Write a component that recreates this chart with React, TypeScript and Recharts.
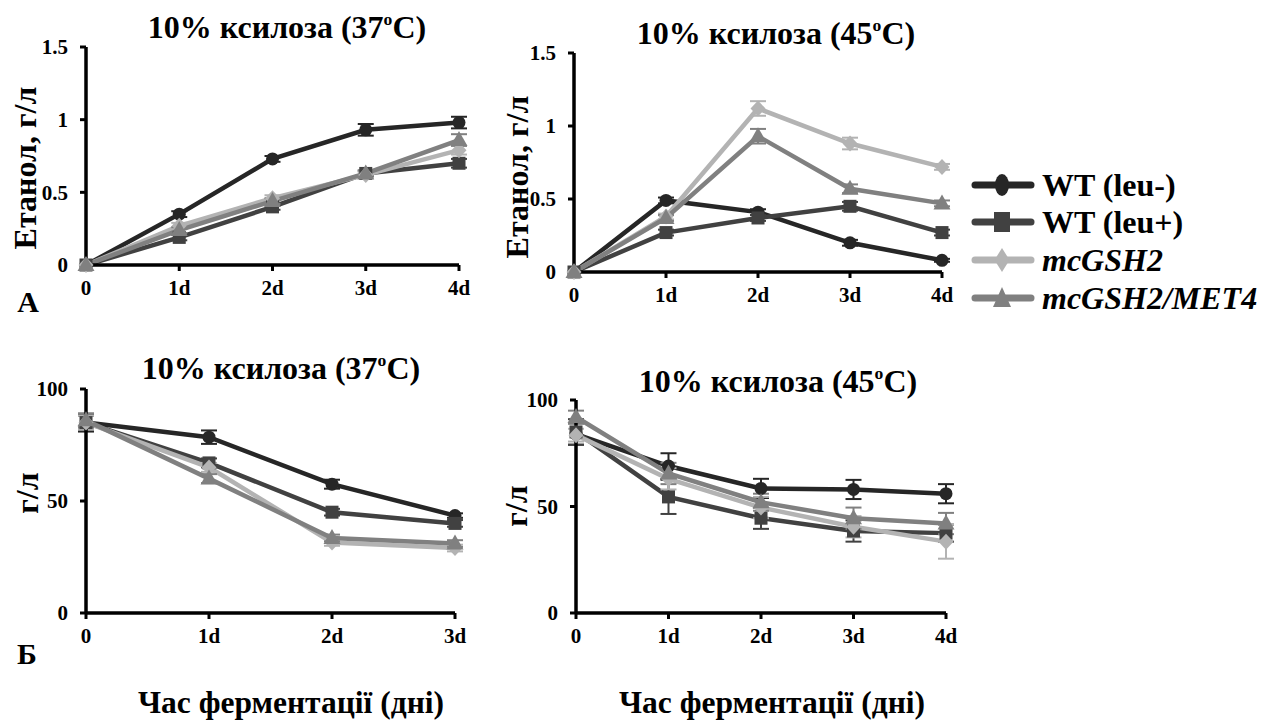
import React from 'react';
import { LineChart, Line, XAxis, YAxis, ErrorBar } from 'recharts';

// ---------- data ----------
const daysA = ['0', '1d', '2d', '3d', '4d'];
const daysB1 = ['0', '1d', '2d', '3d'];
const daysB2 = ['0', '1d', '2d', '3d', '4d'];

const seriesNames = ['WT (leu-)', 'WT (leu+)', 'mcGSH2', 'mcGSH2/MET4'];

// Panel A, 37°C (ethanol, g/l)
const a37WtMinus = [0, 0.35, 0.73, 0.93, 0.98];
const a37WtPlus = [0, 0.19, 0.40, 0.63, 0.70];
const a37Gsh2 = [0, 0.27, 0.46, 0.62, 0.79];
const a37Met4 = [0, 0.24, 0.44, 0.63, 0.86];
const a37WtMinusErr = [0, 0.02, 0.02, 0.04, 0.04];
const a37WtPlusErr = [0, 0.02, 0.02, 0.02, 0.03];
const a37Gsh2Err = [0, 0.02, 0.02, 0.02, 0.03];
const a37Met4Err = [0, 0.02, 0.02, 0.02, 0.04];

// Panel A, 45°C
const a45WtMinus = [0, 0.49, 0.41, 0.20, 0.08];
const a45WtPlus = [0, 0.27, 0.37, 0.45, 0.27];
const a45Gsh2 = [0, 0.38, 1.12, 0.88, 0.72];
const a45Met4 = [0, 0.37, 0.93, 0.57, 0.47];
const a45WtMinusErr = [0, 0.02, 0.02, 0.02, 0.01];
const a45WtPlusErr = [0, 0.02, 0.02, 0.03, 0.02];
const a45Gsh2Err = [0, 0.02, 0.05, 0.04, 0.02];
const a45Met4Err = [0, 0.02, 0.05, 0.03, 0.02];

// Panel Б, 37°C (xylose, g/l)
const b37WtMinus = [85, 78.5, 57.5, 43.5];
const b37WtPlus = [85, 67, 45, 40];
const b37Gsh2 = [85, 65, 31.5, 29];
const b37Met4 = [86, 60, 33.5, 31];
const b37WtMinusErr = [4, 3, 2, 1];
const b37WtPlusErr = [3, 2, 1.5, 1.5];
const b37Gsh2Err = [3, 2, 1.5, 1.5];
const b37Met4Err = [3, 2, 1.5, 1.5];

// Panel Б, 45°C
const b45WtMinus = [84, 69, 58.5, 58, 56];
const b45WtPlus = [85, 54.5, 44.5, 38.5, 37.5];
const b45Gsh2 = [83.5, 63, 49.5, 40.5, 33.5];
const b45Met4 = [92, 65.5, 52, 44.5, 42];
const b45WtMinusErr = [5, 6, 4.5, 4.5, 4.5];
const b45WtPlusErr = [6, 8, 5, 5, 4];
const b45Gsh2Err = [3, 5, 5, 5, 8];
const b45Met4Err = [3, 5, 4, 5, 5];

const ethanolTicks = [0, 0.5, 1, 1.5];
const xyloseTicks = [0, 50, 100];

// ---------- styles ----------
const FONT = "'Liberation Serif', 'Times New Roman', Times, serif";
const COLORS = ['#262626', '#414141', '#b3b3b3', '#808080'];
const SHAPES = ['circle', 'square', 'diamond', 'triangle'];
const KEYS = ['wtMinus', 'wtPlus', 'gsh2', 'met4'];

function buildRows(days: string[], vals: number[][], errs: number[][]) {
  return days.map((d, i) => {
    const row: any = { day: d };
    KEYS.forEach((k, s) => {
      row[k] = vals[s][i];
      row[k + 'Err'] = errs[s][i];
    });
    return row;
  });
}

const dataA37 = buildRows(daysA, [a37WtMinus, a37WtPlus, a37Gsh2, a37Met4], [a37WtMinusErr, a37WtPlusErr, a37Gsh2Err, a37Met4Err]);
const dataA45 = buildRows(daysA, [a45WtMinus, a45WtPlus, a45Gsh2, a45Met4], [a45WtMinusErr, a45WtPlusErr, a45Gsh2Err, a45Met4Err]);
const dataB37 = buildRows(daysB1, [b37WtMinus, b37WtPlus, b37Gsh2, b37Met4], [b37WtMinusErr, b37WtPlusErr, b37Gsh2Err, b37Met4Err]);
const dataB45 = buildRows(daysB2, [b45WtMinus, b45WtPlus, b45Gsh2, b45Met4], [b45WtMinusErr, b45WtPlusErr, b45Gsh2Err, b45Met4Err]);

function makeDot(shape: string, color: string) {
  return (p: any) => {
    const { cx, cy, index } = p;
    const k = 'd' + index;
    if (cx == null || cy == null) return <g key={k} />;
    if (shape === 'circle') return <circle key={k} cx={cx} cy={cy} r={6.5} fill={color} />;
    if (shape === 'square') return <rect key={k} x={cx - 6.5} y={cy - 6.5} width={13} height={13} fill={color} />;
    if (shape === 'diamond')
      return <polygon key={k} points={`${cx},${cy - 8} ${cx + 7.5},${cy} ${cx},${cy + 8} ${cx - 7.5},${cy}`} fill={color} />;
    return <polygon key={k} points={`${cx},${cy - 9} ${cx + 8.5},${cy + 6} ${cx - 8.5},${cy + 6}`} fill={color} />;
  };
}

const tickStyle = { fill: '#000', fontSize: 21, fontWeight: 'bold' as const, fontFamily: FONT };

type PanelProps = {
  data: any[];
  domain: [number, number];
  ticks: number[];
  left: number;
  right: number;
  top: number;
  bottom: number;
};

function Panel({ data, domain, ticks, left, right, top, bottom }: PanelProps) {
  const yW = 60;
  const mt = 12;
  const mr = 22;
  const xH = 45;
  const width = right - left + yW + mr;
  const height = bottom - top + mt + xH;
  return (
    <div style={{ position: 'absolute', left: left - yW, top: top - mt, width, height }}>
      <LineChart width={width} height={height} data={data} margin={{ top: mt, right: mr, bottom: 0, left: 0 }}>
        <XAxis
          dataKey="day"
          scale="point"
          interval={0}
          height={xH}
          padding={{ left: 0, right: 0 }}
          axisLine={{ stroke: '#000', strokeWidth: 3.5 }}
          tickLine={{ stroke: '#000', strokeWidth: 3 }}
          tickSize={6}
          tickMargin={9}
          tick={tickStyle}
        />
        <YAxis
          type="number"
          domain={domain}
          ticks={ticks}
          width={yW}
          interval={0}
          axisLine={{ stroke: '#000', strokeWidth: 3.5 }}
          tickLine={{ stroke: '#000', strokeWidth: 3 }}
          tickSize={6}
          tickMargin={12}
          tick={tickStyle}
          tickFormatter={(v: number) => String(v)}
        />
        {KEYS.map((k, s) => (
          <Line
            key={k}
            dataKey={k}
            name={seriesNames[s]}
            stroke={COLORS[s]}
            strokeWidth={4.5}
            type="linear"
            isAnimationActive={false}
            dot={makeDot(SHAPES[s], COLORS[s])}
            activeDot={false}
          >
            <ErrorBar dataKey={k + 'Err'} width={8} strokeWidth={2} stroke={COLORS[s]} direction="y" />
          </Line>
        ))}
      </LineChart>
    </div>
  );
}

const textBase: React.CSSProperties = {
  position: 'absolute',
  fontFamily: FONT,
  fontWeight: 'bold',
  color: '#000',
  whiteSpace: 'nowrap',
  lineHeight: 1,
};

function CenterText({ x, y, size, rotate, children, italic }: any) {
  return (
    <div
      style={{
        ...textBase,
        left: x,
        top: y,
        fontSize: size,
        fontStyle: italic ? 'italic' : 'normal',
        transform: `translate(-50%, -50%)${rotate ? ' rotate(-90deg)' : ''}`,
      }}
    >
      {children}
    </div>
  );
}

function Title({ x, y, temp }: { x: number; y: number; temp: string }) {
  return (
    <CenterText x={x} y={y} size={32}>
      10% ксилоза ({temp}
      <span style={{ fontSize: '0.55em', verticalAlign: '0.75em' }}>o</span>C)
    </CenterText>
  );
}

function LegendIcon({ shape, color }: { shape: string; color: string }) {
  const cx = 31;
  const cy = 14;
  let marker;
  if (shape === 'circle') marker = <ellipse cx={cx} cy={cy} rx={7} ry={11} fill={color} />;
  else if (shape === 'square') marker = <rect x={cx - 8} y={cy - 10} width={16} height={20} fill={color} />;
  else if (shape === 'diamond')
    marker = <polygon points={`${cx},${cy - 12} ${cx + 7.5},${cy} ${cx},${cy + 12} ${cx - 7.5},${cy}`} fill={color} />;
  else marker = <polygon points={`${cx},${cy - 11} ${cx + 9},${cy + 9} ${cx - 9},${cy + 9}`} fill={color} />;
  return (
    <svg width={64} height={28} style={{ position: 'absolute', left: 0, top: -14 }}>
      <line x1={4} y1={cy} x2={60} y2={cy} stroke={color} strokeWidth={7} strokeLinecap="round" />
      {marker}
    </svg>
  );
}

const legendRowsY = [185, 222, 260, 298];

export default function App() {
  return (
    <div
      style={{
        position: 'absolute',
        left: 0,
        top: 0,
        width: 1273,
        height: 720,
        background: '#fff',
        overflow: 'hidden',
      }}
    >
      <Panel data={dataA37} domain={[0, 1.5]} ticks={ethanolTicks} left={86} right={459} top={47} bottom={265} />
      <Panel data={dataA45} domain={[0, 1.5]} ticks={ethanolTicks} left={574} right={942} top={53} bottom={272} />
      <Panel data={dataB37} domain={[0, 100]} ticks={xyloseTicks} left={86} right={455} top={389} bottom={613} />
      <Panel data={dataB45} domain={[0, 100]} ticks={xyloseTicks} left={576} right={946} top={400} bottom={613} />

      <Title x={287} y={27} temp="37" />
      <Title x={776} y={33} temp="45" />
      <Title x={281} y={368} temp="37" />
      <Title x={778} y={381} temp="45" />

      <CenterText x={25} y={168} size={32} rotate>Етанол, г/л</CenterText>
      <CenterText x={517} y={177} size={32} rotate>Етанол, г/л</CenterText>
      <CenterText x={27} y={493} size={32} rotate>г/л</CenterText>
      <CenterText x={516} y={506} size={32} rotate>г/л</CenterText>

      <CenterText x={28} y={302} size={30}>А</CenterText>
      <CenterText x={27} y={654} size={30}>Б</CenterText>

      <CenterText x={291} y={703} size={31.5}>Час ферментації (дні)</CenterText>
      <CenterText x={772} y={703} size={31.5}>Час ферментації (дні)</CenterText>

      {seriesNames.map((n, s) => (
        <div key={n} style={{ position: 'absolute', left: 971, top: legendRowsY[s], height: 0 }}>
          <LegendIcon shape={SHAPES[s]} color={COLORS[s]} />
          <div
            style={{
              ...textBase,
              left: 71,
              top: 0,
              fontSize: 32,
              fontStyle: s >= 2 ? 'italic' : 'normal',
              transform: 'translateY(-50%)',
            }}
          >
            {n}
          </div>
        </div>
      ))}
    </div>
  );
}
